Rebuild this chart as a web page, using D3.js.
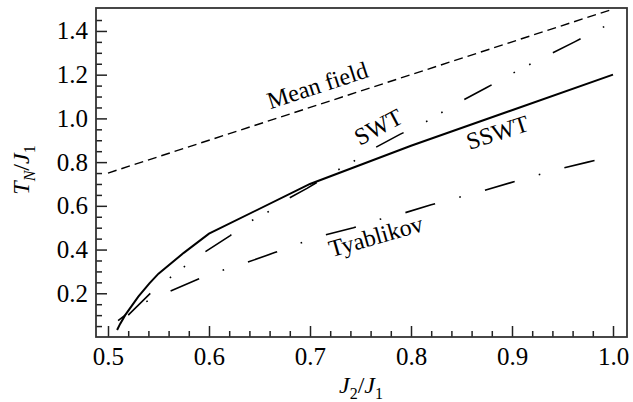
<!DOCTYPE html>
<html><head><meta charset="utf-8">
<script src="https://cdn.jsdelivr.net/npm/d3@7"></script>
<style>
html,body{margin:0;padding:0;background:#fff;}
svg{display:block;font-family:"Liberation Serif","Times New Roman",Tinos,serif;}
</style></head>
<body><svg id="chart" width="633" height="402"></svg>
<script>
// ---- data ----
const xMajorTicks = [0.5, 0.6, 0.7, 0.8, 0.9, 1.0];
const yMajorTicks = [0.2, 0.4, 0.6, 0.8, 1.0, 1.2, 1.4];
const meanFieldJ = [0.5, 1.0];
const meanFieldT = [0.75, 1.5];
const sswtJ = [0.509, 0.512, 0.517, 0.53, 0.541, 0.55, 0.575, 0.60, 0.70, 0.80, 1.00];
const sswtT = [0.032, 0.06, 0.10, 0.185, 0.245, 0.29, 0.385, 0.473, 0.70, 0.875, 1.20];
const swtJ = [0.52, 0.542, 0.561, 0.575, 0.595, 0.621, 0.64, 0.657, 0.678, 0.697, 0.726, 0.742, 0.762, 0.789, 0.812, 0.827, 0.849, 0.875, 0.898, 0.913, 0.936, 0.962, 0.985, 1.0];
const swtT = [0.10, 0.20, 0.27, 0.32, 0.386, 0.464, 0.527, 0.568, 0.632, 0.68, 0.76, 0.80, 0.86, 0.927, 0.977, 1.018, 1.077, 1.141, 1.20, 1.236, 1.29, 1.35, 1.405, 1.44];
const tyabJ = [0.51, 0.517, 0.537, 0.561, 0.589, 0.613, 0.637, 0.665, 0.689, 0.713, 0.743, 0.767, 0.791, 0.82, 0.845, 0.868, 0.898, 0.922, 0.946, 0.975, 1.0];
const tyabT = [0.075, 0.10, 0.16, 0.209, 0.264, 0.305, 0.34, 0.386, 0.427, 0.464, 0.50, 0.536, 0.564, 0.605, 0.636, 0.664, 0.705, 0.736, 0.768, 0.80, 0.827];
const seriesLabels = ["Mean field", "SWT", "SSWT", "Tyablikov"];

// ---- layout ----
const FONT = '"Liberation Serif","Times New Roman",Tinos,serif';
const L = 96, R = 627, T = 8, B = 337;
const svg = d3.select("#chart");
const x = d3.scaleLinear().domain([0.48812, 1.01386]).range([L, R]);
const y = d3.scaleLinear().domain([0, 1.505]).range([B, T]);

svg.append("defs").append("clipPath").attr("id","clip")
  .append("rect").attr("x",L).attr("y",T).attr("width",R-L).attr("height",B-T);

const xMinor = d3.range(0.50, 1.0001, 0.02).filter(v => !xMajorTicks.some(m => Math.abs(m-v)<1e-6));
const yMinor = d3.range(0.05, 1.5, 0.05).filter(v => !yMajorTicks.some(m => Math.abs(m-v)<1e-6));

// minor ticks
svg.append("g").attr("transform",`translate(0,${B})`)
  .call(d3.axisBottom(x).tickValues(xMinor).tickSize(-6).tickFormat(""))
  .call(g=>{g.select(".domain").remove(); g.selectAll("line").attr("stroke","#222").attr("stroke-width",1.5);});
svg.append("g").attr("transform",`translate(${L},0)`)
  .call(d3.axisLeft(y).tickValues(yMinor).tickSize(-6).tickFormat(""))
  .call(g=>{g.select(".domain").remove(); g.selectAll("line").attr("stroke","#222").attr("stroke-width",1.5);});

// major ticks
svg.append("g").attr("transform",`translate(0,${B})`)
  .call(d3.axisBottom(x).tickValues(xMajorTicks).tickSize(-11).tickPadding(10).tickFormat(d3.format(".1f")))
  .call(g=>{g.select(".domain").remove(); g.attr("font-family",FONT);
    g.selectAll("line").attr("stroke","#222").attr("stroke-width",1.5);
    g.selectAll("text").attr("font-size",25).attr("fill","#000");});
svg.append("g").attr("transform",`translate(${L},0)`)
  .call(d3.axisLeft(y).tickValues(yMajorTicks).tickSize(-11).tickPadding(8).tickFormat(d3.format(".1f")))
  .call(g=>{g.select(".domain").remove(); g.attr("font-family",FONT);
    g.selectAll("line").attr("stroke","#222").attr("stroke-width",1.5);
    g.selectAll("text").attr("font-size",25).attr("fill","#000");});

// frame
svg.append("rect").attr("x",L).attr("y",T).attr("width",R-L).attr("height",B-T)
  .attr("fill","none").attr("stroke","#333").attr("stroke-width",1.8);

const line = d3.line().x(d=>x(d[0])).y(d=>y(d[1]));
const zip = (a,b) => a.map((v,i)=>[v,b[i]]);
const plot = svg.append("g").attr("clip-path","url(#clip)");

plot.append("path").attr("d", line(zip(meanFieldJ, meanFieldT)))
  .attr("fill","none").attr("stroke","#000").attr("stroke-width",1.4).attr("stroke-dasharray","9,5");
plot.append("path").attr("d", line(zip(sswtJ, sswtT)))
  .attr("fill","none").attr("stroke","#000").attr("stroke-width",2);
plot.append("path").attr("d", line(zip(swtJ, swtT)))
  .attr("fill","none").attr("stroke","#000").attr("stroke-width",1.6)
  .attr("stroke-dasharray","31,25,1.6,16,1.6,25");
plot.append("path").attr("d", line(zip(tyabJ, tyabT)))
  .attr("fill","none").attr("stroke","#000").attr("stroke-width",1.6)
  .attr("stroke-dasharray","31,25,1.6,25").attr("stroke-dashoffset",22);

// series labels
const labelPos = [[320,93,-18],[382,134,-28],[500,140,-18],[378,244,-16]];
seriesLabels.forEach((t,i)=>{
  const p = labelPos[i];
  svg.append("text").attr("transform",`translate(${p[0]},${p[1]}) rotate(${p[2]})`)
    .attr("text-anchor","middle").attr("font-size",24).attr("fill","#000").text(t);
});

// axis titles
const xt = svg.append("text").attr("x",361).attr("y",393).attr("text-anchor","middle")
  .attr("font-size",24).attr("font-style","italic").attr("fill","#000");
xt.append("tspan").text("J");
xt.append("tspan").attr("font-size",16).attr("font-style","normal").attr("dy",6).text("2");
xt.append("tspan").attr("dy",-6).attr("font-style","normal").text("/");
xt.append("tspan").text("J");
xt.append("tspan").attr("font-size",16).attr("font-style","normal").attr("dy",6).text("1");

const yt = svg.append("text").attr("transform","translate(29,170) rotate(-90)").attr("text-anchor","middle")
  .attr("font-size",24).attr("font-style","italic").attr("fill","#000");
yt.append("tspan").text("T");
yt.append("tspan").attr("font-size",16).attr("dy",6).text("N");
yt.append("tspan").attr("dy",-6).attr("font-style","normal").text("/");
yt.append("tspan").text("J");
yt.append("tspan").attr("font-size",16).attr("font-style","normal").attr("dy",6).text("1");
</script></body></html>
